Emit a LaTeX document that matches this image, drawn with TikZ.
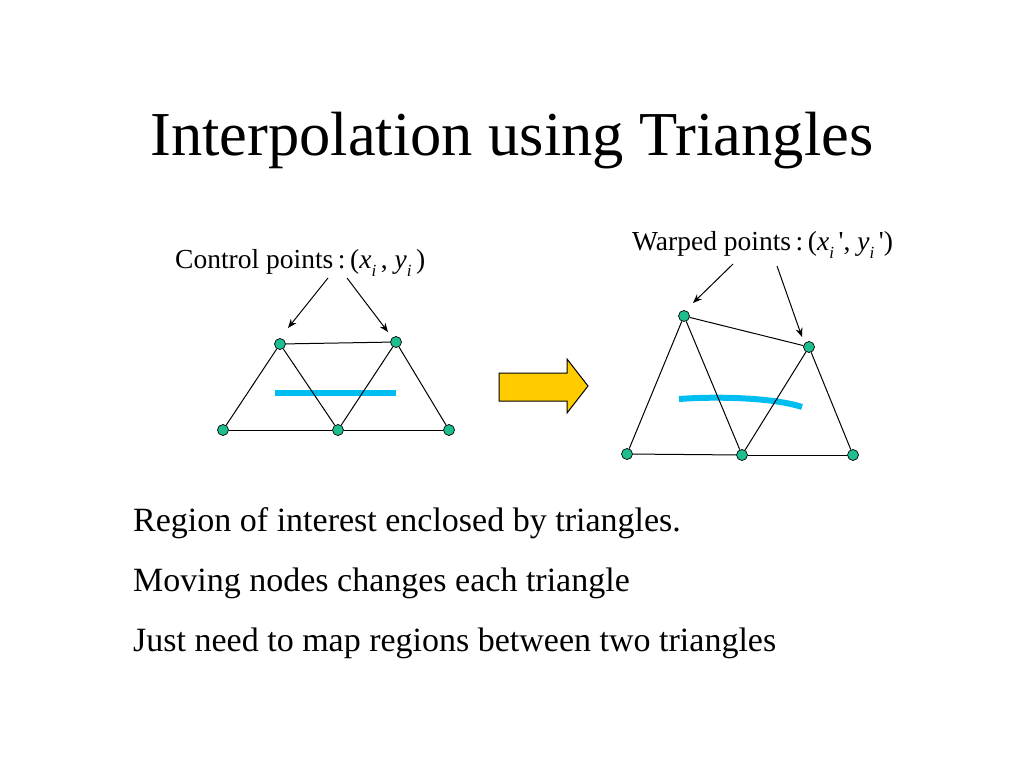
\documentclass[tikz,border=0pt]{standalone}
\usepackage{fontspec}
\setmainfont{Liberation Serif}
\usetikzlibrary{arrows.meta}
\definecolor{dotgreen}{RGB}{30,190,145}
\definecolor{linecyan}{RGB}{0,190,240}
\definecolor{arrowyellow}{RGB}{255,204,0}
\newcommand{\mysub}[1]{\raisebox{-0.3em}{\fontsize{17}{17}\selectfont\textit{#1}}}
\tikzset{
  pt/.style={circle,draw=black,line width=0.7pt,fill=dotgreen,minimum size=11pt,inner sep=0pt},
  edge/.style={line width=1pt,black},
  pointer/.style={line width=1pt,-{Stealth[length=9pt,width=7pt]}},
  roi/.style={line width=6pt,linecyan},
  bodytext/.style={anchor=base west,inner sep=0pt,font=\fontsize{34}{34}\selectfont},
  labeltext/.style={anchor=base west,inner sep=0pt,font=\fontsize{27.5}{27.5}\selectfont}
}
\begin{document}
\begin{tikzpicture}[x=1pt,y=-1pt]
\useasboundingbox (0,0) rectangle (1024,768);
% title
\node[anchor=base west,inner sep=0pt,font=\fontsize{62.5}{62.5}\selectfont] (title) at (150,155) {Interpolation using Triangles};
% left mesh
\node[labeltext] (lab1) at (175,268) {Control points\,:\,(\textit{x}\mysub{i}\,, \textit{y}\mysub{i}\,)};
\coordinate (a1s) at (328,278);
\coordinate (a1e) at (288,328);
\coordinate (a2s) at (347,278);
\coordinate (a2e) at (388,332);
\draw[roi] (275,393) -- (396,393);
\node[pt] (L1) at (280,344) {};
\node[pt] (L2) at (396,342) {};
\node[pt] (L3) at (223,430) {};
\node[pt] (L4) at (338,430) {};
\node[pt] (L5) at (449,430) {};
\draw[edge] (L1) -- (L2);
\draw[edge] (L1) -- (L3);
\draw[edge] (L1) -- (L4);
\draw[edge] (L2) -- (L4);
\draw[edge] (L2) -- (L5);
\draw[edge] (L3) -- (L4);
\draw[edge] (L4) -- (L5);
\draw[pointer] (a1s) -- (a1e);
\draw[pointer] (a2s) -- (a2e);
% big arrow
\draw[line width=1pt,fill=arrowyellow] (499,373) -- (567,373) -- (567,359) -- (588,386) -- (567,413) -- (567,401) -- (499,401) -- cycle;
% right mesh
\node[labeltext] (lab2) at (632,250) {Warped points\,:\,(\textit{x}\mysub{i}\,\textquotesingle, \textit{y}\mysub{i}\,\textquotesingle)};
\coordinate (b1s) at (733,264);
\coordinate (b1e) at (693,303);
\coordinate (b2s) at (777,266);
\coordinate (b2e) at (802,337);
\draw[roi] (679,399) .. controls (720,396) and (775,398) .. (802,407);
\node[pt] (R1) at (684,316) {};
\node[pt] (R2) at (809,347) {};
\node[pt] (R3) at (627,454) {};
\node[pt] (R4) at (742,455) {};
\node[pt] (R5) at (853,455) {};
\draw[edge] (R1) -- (R2);
\draw[edge] (R1) -- (R3);
\draw[edge] (R1) -- (R4);
\draw[edge] (R2) -- (R4);
\draw[edge] (R2) -- (R5);
\draw[edge] (R3) -- (R4);
\draw[edge] (R4) -- (R5);
\draw[pointer] (b1s) -- (b1e);
\draw[pointer] (b2s) -- (b2e);
% body text
\node[bodytext] (t1) at (133,531) {Region of interest enclosed by triangles.};
\node[bodytext] (t2) at (133,591) {Moving nodes changes each triangle};
\node[bodytext] (t3) at (133,651) {Just need to map regions between two triangles};
\end{tikzpicture}
\end{document}
